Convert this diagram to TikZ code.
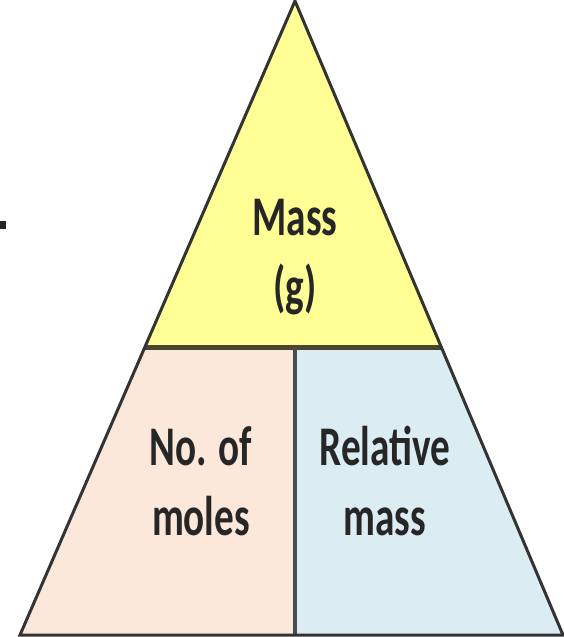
\documentclass[tikz,border=0pt]{standalone}
\usepackage{fontspec}
\newfontfamily\labelfont[FakeStretch=0.7]{Carlito}
\definecolor{massfill}{RGB}{255,255,150}
\definecolor{molesfill}{RGB}{252,232,218}
\definecolor{relfill}{RGB}{219,236,243}

\begin{document}
\begin{tikzpicture}[
  x=1pt,y=-1pt,
  edge/.style={draw=black!80,line width=3pt,line join=miter},
  divider/.style={draw=black!70,line width=4pt},
  label/.style={font=\labelfont\bfseries\fontsize{56}{70}\selectfont,
    text=black!85,align=center,inner sep=0pt}
]
  \useasboundingbox (0,0) rectangle (564,637);

  % corners of the triangle and the split points
  \coordinate (apex) at (295,1);
  \coordinate (bl) at (20,635);
  \coordinate (br) at (563,635);
  \coordinate (ml) at (144.5,347);
  \coordinate (mr) at (441.5,347);
  \coordinate (mm) at (295,347);
  \coordinate (bm) at (295,635);

  \fill[massfill] (apex)--(mr)--(ml)--cycle;
  \fill[molesfill] (ml)--(mm)--(bm)--(bl)--cycle;
  \fill[relfill] (mm)--(mr)--(br)--(bm)--cycle;

  \draw[divider,draw=black!55!olive!80!black,line width=5pt] (ml)--(mr);
  \draw[divider] (mm)--(bm);
  \draw[edge] (apex)--(br)--(bl)--cycle;

  \node[label] (mass) at (295,257) {Mass\\(g)};
  \node[label] (moles) at (201,481) {No. of\\moles};
  \node[label] (relmass) at (385,481) {Relative\\mass};

  \fill[black!85] (0,221) rectangle (6,229);
\end{tikzpicture}
\end{document}
